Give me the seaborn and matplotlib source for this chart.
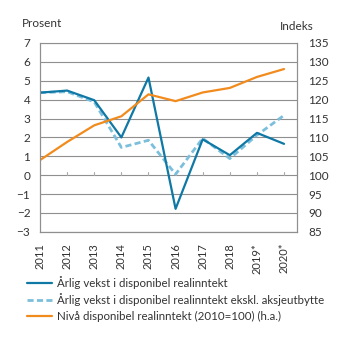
import matplotlib
matplotlib.use("Agg")
import matplotlib.pyplot as plt
import seaborn as sns
import pandas as pd

years = [2011, 2012, 2013, 2014, 2015, 2016, 2017, 2018, 2019, 2020]
year_labels = ["2011", "2012", "2013", "2014", "2015", "2016", "2017", "2018", "2019*", "2020*"]
vekst = [4.37, 4.48, 3.97, 2.0, 5.17, -1.78, 1.9, 1.06, 2.24, 1.66]
vekst_ekskl = [4.37, 4.42, 3.88, 1.47, 1.85, 0.05, 1.95, 0.88, 2.12, 3.17]
niva = [104.0, 108.8, 113.2, 115.6, 121.4, 119.6, 121.9, 123.1, 126.0, 128.1]

lbl1 = "Årlig vekst i disponibel realinntekt"
lbl2 = "Årlig vekst i disponibel realinntekt ekskl. aksjeutbytte"
lbl3 = "Nivå disponibel realinntekt (2010=100) (h.a.)"

sns.set_theme(style="white")
plt.rcParams['font.family'] = ['Lato', 'DejaVu Sans']

c_blue = "#0f78a5"
c_light = "#7cbfdd"
c_orange = "#f28b1e"
c_grid = "#8f8f8f"

df = pd.DataFrame({"year": years, "vekst": vekst, "ekskl": vekst_ekskl, "niva": niva})

fig = plt.figure(figsize=(3.45, 3.41), dpi=100)
ax = fig.add_axes([0.116, 0.320, 0.745, 0.554])
ax2 = ax.twinx()

sns.lineplot(data=df, x="year", y="vekst", ax=ax, color=c_blue, lw=1.6, zorder=4, label=lbl1, legend=False)
sns.lineplot(data=df, x="year", y="ekskl", ax=ax, color=c_light, lw=2.0, ls=(0, (2.2, 1.2)), zorder=3, label=lbl2, legend=False)
sns.lineplot(data=df, x="year", y="niva", ax=ax2, color=c_orange, lw=1.6, zorder=2, label=lbl3, legend=False)

ax.set_xlim(2011, 2020.48)
ax.set_ylim(-3, 7)
ax2.set_ylim(85, 135)
ax.set_yticks(range(-3, 8))
ax2.set_yticks(range(85, 136, 5))
ax.grid(axis="y", color=c_grid, lw=0.8)
ax.set_axisbelow(True)
for a in (ax, ax2):
    for s in a.spines.values():
        s.set_color(c_grid)
        s.set_linewidth(0.8)
    a.set_xlabel("")
    a.set_ylabel("")
ax2.spines["top"].set_visible(False)

# small ticks on zero line
for x in years[1:]:
    ax.plot([x, x], [0, 0.15], color="#aaaaaa", lw=0.8, zorder=1)

ax.set_xticks(years)
ax.set_xticklabels(year_labels, rotation=90, fontsize=8, color="#333333")
ax.tick_params(axis="x", length=0, pad=8)
ax.tick_params(axis="y", length=0, labelsize=8.5, labelcolor="#333333", pad=7)
ax2.tick_params(axis="y", length=0, labelsize=8.5, labelcolor="#333333", pad=8)

fig.text(0.064, 0.92, "Prosent", fontsize=8.5, color="#333333", ha="left", va="baseline")
fig.text(0.81, 0.912, "Indeks", fontsize=8.5, color="#333333", ha="left", va="baseline")

h1, l1 = ax.get_legend_handles_labels()
h2, l2 = ax2.get_legend_handles_labels()
fig.legend(h1 + h2, l1 + l2, loc="upper left", bbox_to_anchor=(0.066, 0.205), frameon=False,
           fontsize=8.3, handlelength=2.1, handletextpad=0.5, labelspacing=0.4, borderaxespad=0,
           labelcolor="#333333")

fig.savefig("out.png", dpi=100)
